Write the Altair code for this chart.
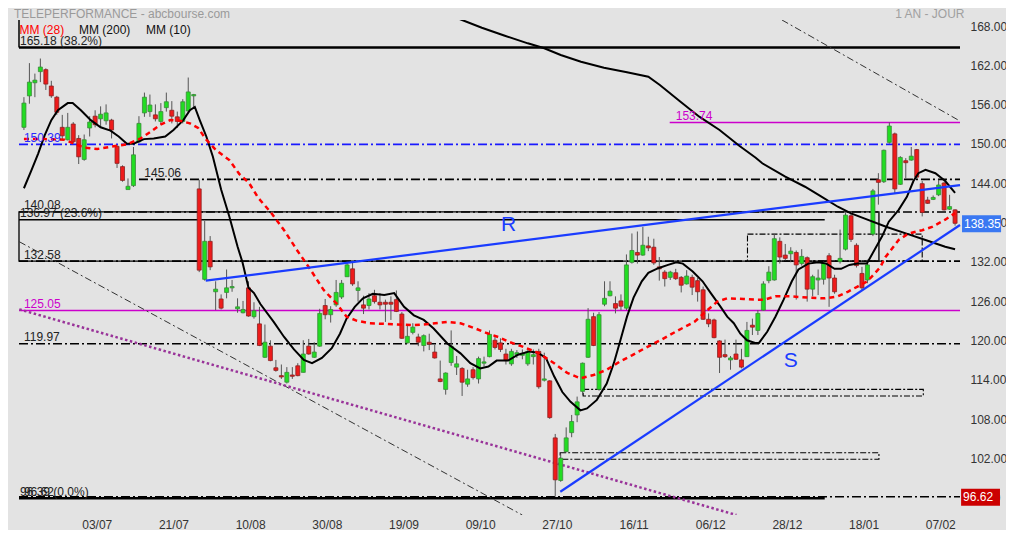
import json
import altair as alt
import pandas as pd

# ---------------- data ----------------
opens = [153.0,157.8,159.8,161.5,161.8,159.3,157.6,153.0,151.1,153.5,
         151.3,148.1,152.9,154.7,154.3,154.0,154.1,150.1,147.0,143.5,
         144.1,150.8,155.2,155.4,154.9,153.9,156.0,155.6,154.6,153.9,
         155.5,157.8,143.6,129.8,135.6,127.9,126.8,127.8,128.5,125.3,
         124.7,128.5,124.1,123.0,117.9,119.6,116.3,115.1,114.1,115.2,
         116.6,115.6,119.6,117.9,119.6,125.8,124.4,125.9,127.1,130.2,
         131.4,128.1,125.9,125.8,127.3,126.3,126.3,126.3,126.7,124.5,
         120.1,121.7,121.0,119.7,120.2,118.7,114.6,113.0,117.1,116.4,
         116.2,113.8,116.0,114.6,117.0,118.0,120.5,120.1,118.4,116.9,
         118.3,118.2,116.9,118.0,118.8,114.4,114.3,105.6,99.1,103.5,
         106.4,109.1,112.7,117.9,124.1,113.0,126.0,127.3,126.1,126.5,
         125.4,132.4,133.9,133.5,134.9,134.7,131.7,130.9,130.1,130.8,
         130.1,129.1,130.1,129.6,128.2,123.7,123.6,120.4,118.3,117.5,
         118.4,117.5,118.0,122.8,122.0,125.1,129.6,129.7,135.6,133.5,
         133.7,133.9,132.2,133.1,128.3,129.7,129.8,133.4,130.0,132.5,
         134.4,139.5,135.0,130.7,129.7,136.7,145.0,144.7,150.7,152.0,
         144.3,147.9,148.0,149.6,144.4,141.9,142.0,142.7,144.5,140.5,
         140.4]
highs = [157.6,162.8,161.2,163.5,162.0,160.1,157.8,154.9,155.2,153.8,
         151.8,151.9,154.7,155.6,156.2,156.5,154.3,150.3,147.2,145.2,
         150.0,154.7,158.3,158.0,156.5,156.7,158.3,157.0,155.4,157.3,
         160.6,158.1,145.0,138.7,136.4,129.5,127.5,131.3,129.7,126.9,
         126.5,129.5,126.3,125.6,122.9,120.5,117.5,116.8,116.4,116.4,
         117.0,120.5,120.7,120.2,125.3,126.8,125.7,129.7,129.7,132.5,
         132.3,129.5,127.3,127.7,128.2,127.7,126.7,127.2,128.1,124.8,
         122.7,123.1,121.5,121.4,121.5,119.8,117.4,115.6,122.0,118.1,
         116.4,116.0,116.4,118.0,118.0,122.0,121.1,120.8,119.2,119.2,
         119.0,119.1,119.2,119.1,119.2,118.6,114.4,106.2,103.1,107.2,
         109.1,111.9,117.1,125.4,124.7,124.8,129.5,129.5,127.2,127.5,
         133.6,136.8,137.1,137.8,136.3,136.0,133.2,131.2,131.1,131.4,
         130.3,131.2,130.5,130.0,128.7,124.6,123.8,120.5,120.6,118.1,
         120.6,119.2,123.3,123.8,125.1,129.5,131.8,136.7,136.2,135.2,
         134.7,134.2,134.4,133.3,130.5,131.3,132.5,133.8,130.5,137.4,
         140.0,139.9,135.3,131.7,132.8,143.6,146.0,149.6,153.74,152.2,
         148.6,148.3,150.0,149.7,144.8,142.4,142.6,145.0,144.7,142.7,
         140.5]
lows = [152.6,156.6,157.6,159.9,158.7,157.5,154.9,151.1,151.0,150.5,
        147.4,147.9,151.6,153.0,153.0,153.4,151.3,146.8,144.7,143.5,
        143.9,150.6,154.6,154.6,153.9,153.4,155.4,153.6,152.9,153.6,
        155.3,156.1,130.9,129.6,131.2,125.1,125.2,126.9,127.9,124.7,
        124.6,124.1,123.8,119.6,117.8,117.3,115.7,114.6,113.9,114.6,
        115.0,115.6,118.3,117.8,119.5,123.7,123.2,125.6,126.8,130.2,
        128.8,126.4,124.5,125.2,126.1,125.2,123.3,123.6,124.8,120.7,
        120.0,121.4,119.6,118.8,119.0,117.7,114.1,112.2,116.6,115.2,
        112.0,113.4,114.5,113.9,116.5,117.9,119.1,118.7,116.8,116.6,
        117.8,117.6,116.6,116.8,113.1,114.2,108.5,96.62,98.9,103.4,
        105.7,108.0,112.1,117.8,119.6,112.8,125.7,127.2,124.6,125.1,
        125.1,132.2,132.2,133.4,134.1,132.0,129.6,128.7,129.7,129.7,
        127.8,129.0,127.4,126.4,123.6,122.5,120.8,115.5,117.8,116.0,
        117.5,116.2,118.0,121.3,121.3,125.0,129.2,129.6,132.2,132.7,
        132.4,126.7,131.9,126.4,127.2,127.4,129.0,125.6,127.6,132.2,
        134.2,135.5,131.6,128.1,129.2,136.4,141.2,144.5,150.5,142.9,
        144.2,145.2,147.9,145.2,139.4,141.3,141.9,142.5,140.3,140.4,
        138.0]
closes = [156.7,159.9,160.2,162.2,159.6,157.8,155.3,151.7,153.0,150.8,
          148.5,151.1,153.8,153.4,155.0,155.2,152.6,147.5,144.9,144.0,
          148.8,153.6,157.6,156.4,154.3,155.4,156.9,154.7,153.9,156.9,
          158.4,158.0,131.2,135.6,131.7,128.3,125.4,128.5,128.7,125.6,
          125.2,124.2,125.0,119.7,120.2,117.4,115.9,114.9,115.6,115.0,
          115.1,118.4,118.4,118.7,124.6,124.4,125.2,127.8,129.2,132.0,
          129.1,128.5,125.4,126.8,126.4,125.9,126.0,126.0,124.9,120.8,
          121.1,122.5,120.2,121.2,119.9,117.8,114.2,115.5,119.6,116.9,
          114.1,114.6,114.8,117.7,117.2,121.4,119.4,119.1,117.4,118.8,
          118.6,118.5,118.8,118.3,113.4,114.6,108.7,99.2,102.5,105.6,
          108.1,111.1,117.0,123.7,119.7,124.4,126.9,128.0,125.4,125.7,
          132.0,134.2,133.5,135.0,134.6,132.3,131.4,129.9,130.9,129.9,
          128.9,130.3,128.6,127.9,123.7,123.0,120.9,117.9,118.0,117.8,
          117.6,116.4,122.0,122.5,124.6,129.1,130.9,136.0,133.2,133.0,
          134.1,132.0,133.3,128.3,130.2,130.0,132.3,130.0,127.9,133.0,
          139.6,135.9,131.9,128.5,132.0,143.3,144.6,149.5,153.2,143.6,
          148.4,147.6,148.6,145.4,140.0,141.4,142.3,144.2,140.4,140.9,
          138.35]

date_labels = ["03/07", "21/07", "10/08", "30/08", "19/09", "09/10",
               "27/10", "16/11", "06/12", "28/12", "18/01", "07/02"]
date_tick_pos = [13.3, 27.3, 41.3, 55.3, 69.3, 83.3, 97.3, 111.3, 125.3, 139.3, 153.3, 167.3]
price_ticks = [96, 102, 108, 114, 120, 126, 132, 138, 144, 150, 156, 162, 168]

# moving averages
mm10_idx = [0,1.4,2.6,3.8,5.0,6.2,8.0,8.9,10.4,12.2,14.0,15.8,17.3,18.8,20.0,21.9,23.7,25.8,27.3,29.1,
            30.3,31.2,32.1,33.3,34.5,36.0,37.5,39.0,39.9,41.0,42.0,43.2,45.6,47.5,49.3,51.1,52.6,54.4,56.2,57.7,
            58.9,60.4,61.9,63.7,65.8,67.6,69.4,71.2,73.0,74.8,77.3,79.7,81.5,83.3,84.8,86.3,88.4,90.2,92.3,93.8,
            95.3,96.8,98.3,99.8,101.6,102.8,104.6,106.4,107.7,108.9,110.1,111.3,112.8,114.0,115.8,117.6,119.1,120.3,122.1,123.9,
            125.4,127.2,128.4,129.6,130.8,132.0,133.5,134.2,135.7,137.2,138.7,140.2,141.4,143.2,145.0,146.5,148.0,149.2,150.7,152.2,
            153.9,154.9,156.7,157.9,159.7,161.2,162.4,163.3,164.6,166.4,168.2,170.0]
mm10_val = [143.7,146.5,149.0,151.8,154.1,155.6,156.7,156.7,155.6,154.1,153.0,152.5,151.6,150.5,150.5,151.2,151.3,151.6,152.6,154.1,
            155.6,156.1,154.1,151.6,148.5,143.5,139.4,134.8,132.4,128.5,127.7,126.0,123.3,121.0,119.1,117.5,117.0,117.8,119.3,121.5,
            123.8,125.6,126.9,127.6,127.4,127.7,125.6,124.3,123.6,122.3,120.0,118.5,117.0,116.2,116.5,117.4,117.4,118.3,118.8,118.6,
            117.8,115.0,112.6,111.1,109.8,110.1,111.4,113.9,117.0,120.5,124.1,127.0,129.5,130.8,131.5,132.0,132.4,132.2,131.0,129.5,
            127.7,125.6,124.1,123.1,121.5,120.5,120.1,120.1,121.8,124.1,126.7,129.5,131.3,132.2,132.4,132.2,131.4,131.4,132.0,132.2,
            132.2,133.7,136.4,138.6,140.4,142.4,144.8,146.0,146.5,146.0,144.8,143.0]
mm28_idx = [0,3.8,7.4,11.0,13.4,16.4,18.8,21.3,23.1,24.9,26.7,28.5,30.3,31.8,33.3,35.1,37.5,39.3,41.1,42.8,
            45.0,47.5,49.9,52.3,54.7,57.1,58.9,60.7,63.1,65.8,68.2,71.2,74.2,77.3,79.7,82.1,84.5,86.9,88.4,90.8,
            93.8,96.8,99.2,101.6,104.0,106.4,108.9,111.0,113.4,116.4,119.4,122.4,124.8,126.6,128.4,131.4,133.5,135.3,137.2,140.2,
            143.2,146.2,148.6,150.4,152.2,154.0,156.3,157.3,159.7,161.5,164.0,165.8,168.2,170.0]
mm28_val = [151.2,151.2,151.1,149.9,149.7,150.1,150.4,151.3,152.3,153.4,154.1,154.0,153.6,152.9,151.1,149.5,148.0,145.9,144.5,142.2,
            140.1,137.3,134.2,131.3,128.2,126.1,124.1,123.5,123.1,123.0,122.9,122.8,123.0,123.3,123.1,122.4,121.6,120.9,120.3,119.6,
            118.6,117.0,115.5,114.7,115.2,116.0,117.3,118.2,119.3,120.6,122.0,123.3,125.1,126.4,126.9,126.8,126.7,126.7,127.2,127.2,
            127.0,126.9,127.2,127.9,128.7,129.5,131.6,133.2,135.8,136.8,137.3,137.8,138.9,139.9]
mm200_idx = [78.0,80.0,83.6,87.8,92.0,95.0,98.0,101.7,105.9,110.1,114.0,116.1,119.7,123.3,127.0,
             130.6,133.6,134.8,139.0,142.6,145.6,148.6,151.0,153.4,157.4,161.0,164.6,168.2,170.0]
mm200_val = [170.0,169.38,168.2,166.98,165.82,165.06,164.04,163.01,162.10,161.40,160.72,159.46,157.01,154.62,152.59,
             150.19,148.36,147.51,145.46,143.93,142.41,140.88,139.87,139.11,137.83,136.82,135.80,134.78,134.38]

# horizontal levels: (price, start index, end index)
solid_thick_levels = [(165.18, -0.9, 170.9), (96.39, -0.9, 146.2)]
solid_thin_levels = [(138.89, -0.9, 146.2)]
dashdot_levels = [(145.06, 21.0, 170.9), (140.08, -0.9, 170.9), (132.58, -0.9, 170.9),
                  (119.97, -0.9, 170.9), (96.62, -0.9, 170.9)]
blue_levels = [(150.39, -0.9, 170.9)]
magenta_levels = [(125.05, -0.9, 170.9), (153.74, 117.9, 170.9)]

# boxes: (x0, x1, p_low, p_high)
solid_boxes = [(-0.9, 156.1, 132.58, 140.08)]
dashed_boxes = [(132.1, 164.0, 132.58, 136.7), (102.1, 164.2, 112.0, 113.0), (97.9, 156.1, 102.33, 103.34)]

# drawn trend lines: (id, x0, p0, x1, p1)
thin_diag = [("d1", -0.85, 135.54, 90.98, 93.83), ("d2", 138.4, 169.38, 170.9, 153.96)]
purple_diag = [("pu", -0.85, 125.22, 130.08, 93.83)]
blue_trend = [("R", 33.19, 129.59, 170.9, 144.19), ("S", 97.92, 97.38, 170.9, 138.09)]

left_labels = [
    ("165.18 (38.2%)", -0.72, 165.18, "#222222"),
    ("150.39", 0.0, 150.39, "#2a2aff"),
    ("145.06", 21.98, 145.06, "#222222"),
    ("140.08", 0.0, 140.08, "#222222"),
    ("136.97 (23.6%)", -0.72, 138.89, "#222222"),
    ("132.58", 0.0, 132.58, "#222222"),
    ("125.05", 0.0, 125.05, "#cc00cc"),
    ("119.97", 0.0, 119.97, "#222222"),
    ("153.74", 119.0, 153.74, "#cc00cc"),
    ("96.39 (0.0%)", -0.72, 96.39, "#222222"),
    ("96.62", 0.0, 96.39, "#222222"),
]
trend_letters = [("R", 88.5, 138.1), ("S", 140.0, 117.3)]
price_boxes = [("138.35", 138.35, 171.27, 178.4, "#3a78f2"), ("96.62", 96.62, 171.1, 178.2, "#cc0000")]

# ---------------- chart ----------------
FONT = "Liberation Sans"
XS = alt.Scale(domain=[-0.9, 170.9], nice=False, zero=False)
YS = alt.Scale(domain=[93.83, 169.38], nice=False, zero=False)
x_axis = alt.Axis(values=date_tick_pos,
                  labelExpr=json.dumps(date_labels) + "[round((datum.value - 13.3) / 14)]",
                  title=None, grid=False, domain=False, ticks=False, labelPadding=4,
                  labelFontSize=12, labelColor="#333333", labelFont=FONT,
                  labelFlush=False, labelOverlap=False)
y_axis = alt.Axis(orient="right", values=price_ticks, format=".2f", title=None, grid=False,
                  domain=False, ticks=False, labelPadding=5, labelOffset=-3,
                  labelFontSize=12, labelColor="#333333", labelFont=FONT,
                  labelFlush=False, labelOverlap=False)


def X(f):
    return alt.X(f, type="quantitative", scale=XS, axis=x_axis)


def Y(f):
    return alt.Y(f, type="quantitative", scale=YS, axis=y_axis)


def levels_df(levels):
    return pd.DataFrame(levels, columns=["p", "x0", "x1"])


def rule_layer(levels, **kw):
    return alt.Chart(levels_df(levels)).mark_rule(**kw).encode(x=X("x0"), x2="x1", y=Y("p"))


def box_layer(boxes, **kw):
    d = pd.DataFrame(boxes, columns=["x0", "x1", "p0", "p1"])
    return alt.Chart(d).mark_rect(fillOpacity=0, **kw).encode(x=X("x0"), x2="x1", y=Y("p0"), y2="p1")


def seg_layer(segs, **kw):
    rows = []
    for sid, xa, pa, xb, pb in segs:
        rows.append({"id": sid, "k": xa, "p": pa})
        rows.append({"id": sid, "k": xb, "p": pb})
    return alt.Chart(pd.DataFrame(rows)).mark_line(clip=True, **kw).encode(
        x=X("k"), y=Y("p"), detail="id:N")


def ma_layer(idx, val, **kw):
    return alt.Chart(pd.DataFrame({"k": idx, "p": val})).mark_line(clip=True, **kw).encode(
        x=X("k"), y=Y("p"))


DASHDOT = [9, 3, 2, 3]
layers = []
layers.append(rule_layer(solid_thick_levels, color="#000000", strokeWidth=2.5))
layers.append(rule_layer(solid_thin_levels, color="#000000", strokeWidth=1.3))
layers.append(rule_layer(dashdot_levels, color="#000000", strokeWidth=1.6, strokeDash=DASHDOT))
layers.append(rule_layer(blue_levels, color="#1a1aff", strokeWidth=1.6, strokeDash=DASHDOT))
layers.append(rule_layer(magenta_levels, color="#cc00cc", strokeWidth=1.5))
# left edge of the retracement frame
layers.append(alt.Chart(pd.DataFrame({"x0": [-0.9], "p0": [165.18], "p1": [169.38]})).mark_rule(
    color="#000000", strokeWidth=1.5).encode(x=X("x0"), y=Y("p0"), y2="p1"))
layers.append(box_layer(solid_boxes, stroke="#000000", strokeWidth=1.3))
layers.append(box_layer(dashed_boxes, stroke="#000000", strokeWidth=1.1, strokeDash=[6, 2, 2, 2]))
layers.append(seg_layer(thin_diag, color="#333333", strokeWidth=1, strokeDash=[7, 3, 2, 3]))
layers.append(seg_layer(purple_diag, color="#993399", strokeWidth=2.5, strokeDash=[2.5, 2.5]))

# candles
candles = pd.DataFrame({"k": list(range(len(opens))), "o": opens, "h": highs, "l": lows, "c": closes})
candles["dir"] = ["up" if c >= o else "down" for o, c in zip(opens, closes)]
layers.append(alt.Chart(candles).mark_rule(color="#555555", strokeWidth=1).encode(
    x=X("k"), y=Y("l"), y2="h"))
layers.append(alt.Chart(candles).mark_bar(size=4, strokeWidth=0.8).encode(
    x=X("k"), y=Y("o"), y2="c",
    color=alt.Color("dir:N", scale=alt.Scale(domain=["up", "down"], range=["#22dd22", "#ee1b1b"]), legend=None),
    stroke=alt.Stroke("dir:N", scale=alt.Scale(domain=["up", "down"], range=["#3a8a3a", "#8a2222"]), legend=None)))

# moving averages
layers.append(ma_layer(mm200_idx, mm200_val, color="#000000", strokeWidth=2))
layers.append(ma_layer(mm10_idx, mm10_val, color="#000000", strokeWidth=2))
layers.append(ma_layer(mm28_idx, mm28_val, color="#ff0000", strokeWidth=2.5, strokeDash=[5, 4]))

# support / resistance
layers.append(seg_layer(blue_trend, color="#1a3cff", strokeWidth=2.2))

# texts
lbl = pd.DataFrame(left_labels, columns=["t", "k", "p", "col"])
layers.append(alt.Chart(lbl).mark_text(align="left", baseline="alphabetic", dy=-2.5, font=FONT,
                                       fontSize=12).encode(
    x=X("k"), y=Y("p"), text="t:N", color=alt.Color("col:N", scale=None)))
tl = pd.DataFrame(trend_letters, columns=["t", "k", "p"])
layers.append(alt.Chart(tl).mark_text(align="center", baseline="middle", font=FONT, fontSize=21,
                                      color="#1a3cff").encode(x=X("k"), y=Y("p"), text="t:N"))

# price boxes on the right
pb = pd.DataFrame(price_boxes, columns=["t", "p", "x0", "x1", "col"])
layers.append(alt.Chart(pb).mark_rect(yOffset=-8, y2Offset=9).encode(
    x=X("x0"), x2="x1", y=Y("p"), y2="p", color=alt.Color("col:N", scale=None)))
layers.append(alt.Chart(pb).mark_text(align="left", baseline="middle", dx=2, dy=0.5, font=FONT,
                                      fontSize=12, color="#ffffff").encode(
    x=X("x0"), y=Y("p"), text="t:N"))

# header / legend texts
head = pd.DataFrame({"t": ["TELEPERFORMANCE - abcbourse.com", "1 AN - JOUR", "MM (28)", "MM (200)", "MM (10)"],
                     "px": [0, 950.5, 5.5, 65, 132],
                     "py": [-6.5, -6.5, 9.5, 9.5, 9.5],
                     "al": ["left", "right", "left", "left", "left"],
                     "col": ["#9a9a9a", "#a0a0a0", "#ff0000", "#111111", "#111111"]})
for _, r in head.iterrows():
    layers.append(alt.Chart(pd.DataFrame({"t": [r["t"]]})).mark_text(
        align=r["al"], baseline="middle", font=FONT, fontSize=12, color=r["col"]).encode(
        x=alt.value(float(r["px"])), y=alt.value(float(r["py"])), text="t:N"))

chart = alt.layer(*layers).properties(
    width=951, height=495,
    padding={"left": 6, "top": 12, "right": 41, "bottom": 15},
    autosize=alt.AutoSizeParams(type="none"),
    background="#e3e3e3",
).configure_view(strokeWidth=0)

chart.save("out.html", embed_options={"renderer": "svg", "actions": False})
